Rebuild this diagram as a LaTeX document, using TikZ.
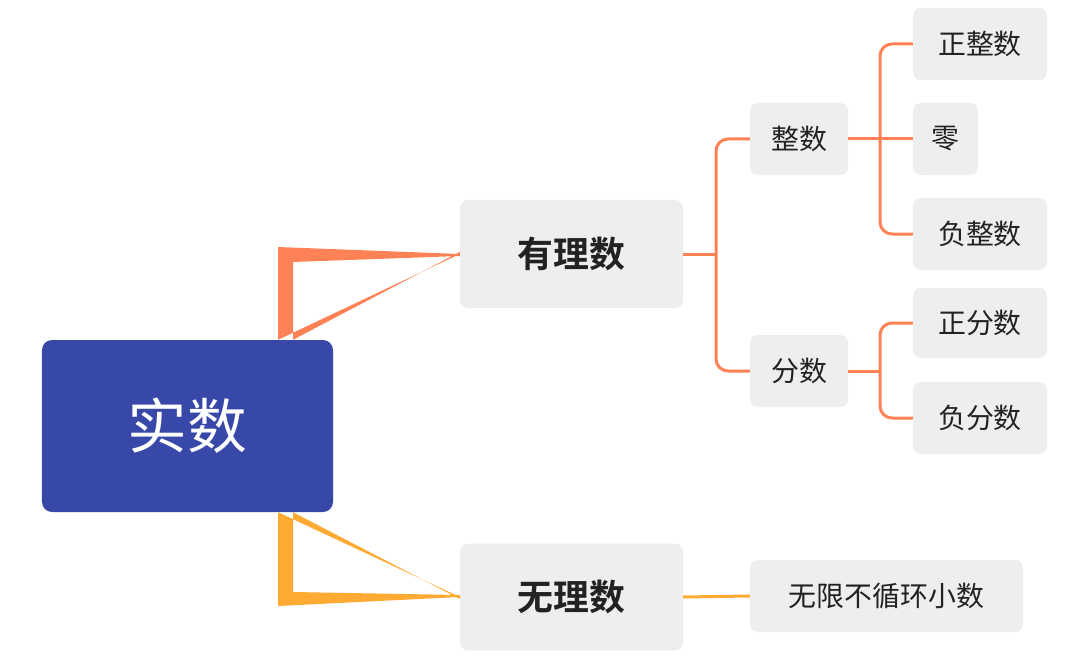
\documentclass[tikz,border=0pt]{standalone}
\usepackage{fontspec}
\setmainfont{Noto Sans CJK SC}
\newfontfamily\cjkb{Noto Sans CJK SC Bold}
\definecolor{rootblue}{HTML}{3848A8}
\definecolor{lightbox}{HTML}{EEEEEE}
\definecolor{orng}{HTML}{FF8256}
\definecolor{yel}{HTML}{FFAA33}
\definecolor{txt}{HTML}{222222}
\begin{document}
\begin{tikzpicture}[x=1bp,y=-1bp,
  box/.style={fill=lightbox,rounded corners=8bp,inner sep=0pt,text=txt,font=\fontsize{28}{30}\selectfont},
  midbox/.style={box,font=\cjkb\fontsize{36}{40}\selectfont},
  conn/.style={line width=3bp,rounded corners=12bp}]
\useasboundingbox (0,0) rectangle (1080,659);
\node[fill=rootblue,rounded corners=10bp,text=white,minimum width=291bp,minimum height=172bp,font=\fontsize{60}{64}\selectfont] (root) at (187.5,426) {实数};
\node[midbox,minimum width=223bp,minimum height=108bp] (rat) at (571.5,254) {有理数};
\node[midbox,minimum width=223bp,minimum height=107bp] (irr) at (571.5,597) {无理数};
\node[box,minimum width=98bp,minimum height=72bp] (int) at (799,139) {整数};
\node[box,minimum width=98bp,minimum height=72bp] (frac) at (799,371) {分数};
\node[box,minimum width=134bp,minimum height=72bp] (pint) at (980,44) {正整数};
\node[box,minimum width=65bp,minimum height=72bp] (zero) at (945.5,139) {零};
\node[box,minimum width=134bp,minimum height=72bp] (nint) at (980,234) {负整数};
\node[box,minimum width=134bp,minimum height=70bp] (pfr) at (980,323) {正分数};
\node[box,minimum width=134bp,minimum height=72bp] (nfr) at (980,418) {负分数};
\node[box,minimum width=273bp,minimum height=72bp] (irrd) at (886.5,596) {无限不循环小数};
% tapered connectors
\fill[orng] (root.north -| 278,0) -- (278,247) -- (rat.west) ++(0,-2) -- ++(0,4) -- (293,262) -- (root.north -| 293,0) -- cycle;
\fill[yel] (root.south -| 278,0) -- (278,606) -- (irr.west) ++(0,2) -- ++(0,-4) -- (293,592) -- (root.south -| 293,0) -- cycle;
\draw[conn,orng] (rat.east) -- (716,254);
\draw[conn,orng] (int.west) -| (716,254) |- (frac.west);
\draw[conn,orng] (int.east) -- (880,139) -- (zero.west);
\draw[conn,orng] (pint.west) -| (880,139) |- (nint.west);
\draw[conn,orng] (pfr.west) -| (880,371) |- (nfr.west);
\draw[conn,orng] (frac.east) -- (880,371);
\draw[conn,yel] (irr.east) -- (irrd.west);
\end{tikzpicture}
\end{document}
